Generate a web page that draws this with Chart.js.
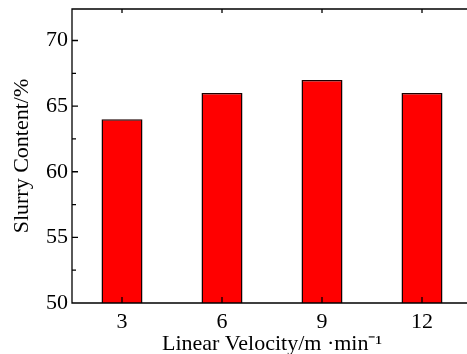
<!DOCTYPE html>
<html>
<head>
<meta charset="utf-8">
<script src="https://cdn.jsdelivr.net/npm/chart.js@4"></script>
<style>
  html, body { margin: 0; padding: 0; background: #fff; overflow: hidden; }
  #wrap { width: 467px; height: 354px; overflow: hidden; }
</style>
</head>
<body>
<div id="wrap"><canvas id="chart" width="480" height="354"></canvas></div>
<script>
    // data
    var velocities = ["3", "6", "9", "12"];
    var slurryContent = [64, 66, 67, 66];
    var yMajorTicks = [50, 55, 60, 65, 70];
    var yMinorTicks = [52.5, 57.5, 62.5, 67.5];

    var serif = "'Liberation Serif', 'Times New Roman', serif";

    // ticks pointing inward + frame, like the original figure
    // (the right side of the frame falls outside the cropped picture)
    var framePlugin = {
        id: "frame",
        afterDraw: function (chart) {
            var ctx = chart.ctx,
                area = chart.chartArea,
                x = chart.scales.x,
                y = chart.scales.y;
            ctx.save();
            ctx.strokeStyle = "#000";
            ctx.lineWidth = 1.3;
            ctx.beginPath();
            ctx.moveTo(area.right, area.top);
            ctx.lineTo(area.left, area.top);
            ctx.lineTo(area.left, area.bottom);
            ctx.lineTo(area.right, area.bottom);
            yMajorTicks.forEach(function (v) {
                var p = y.getPixelForValue(v);
                ctx.moveTo(area.left, p);
                ctx.lineTo(area.left + 6, p);
            });
            yMinorTicks.forEach(function (v) {
                var p = y.getPixelForValue(v);
                ctx.moveTo(area.left, p);
                ctx.lineTo(area.left + 4, p);
            });
            velocities.forEach(function (v, i) {
                var p = x.getPixelForValue(i);
                ctx.moveTo(p, area.bottom);
                ctx.lineTo(p, area.bottom - 6);
                ctx.moveTo(p, area.top);
                ctx.lineTo(p, area.top + 4);
            });
            ctx.stroke();
            ctx.restore();
        }
    };

    new Chart(document.getElementById("chart"), {
        type: "bar",
        data: {
            labels: velocities,
            datasets: [
                {
                    data: slurryContent,
                    backgroundColor: "#FF0000",
                    borderColor: "#1a0000",
                    borderWidth: 1.5,
                    borderSkipped: false,
                    categoryPercentage: 1,
                    barPercentage: 0.41
                }
            ]
        },
        options: {
            responsive: false,
            animation: false,
            layout: { padding: { top: 9, right: 8, left: 0, bottom: 0 } },
            plugins: {
                legend: { display: false },
                tooltip: { enabled: false }
            },
            scales: {
                x: {
                    grid: { display: false, drawTicks: false },
                    border: { display: false },
                    ticks: {
                        padding: 6,
                        color: "#000",
                        font: { family: serif, size: 22 }
                    },
                    title: {
                        display: true,
                        text: "Linear Velocity/m \u00B7min\u207B\u00B9",
                        color: "#000",
                        font: { family: serif, size: 22 },
                        padding: { top: 0, bottom: -3 }
                    },
                    afterFit: function (scale) {
                        scale.height = 51;
                        scale.paddingLeft = 0;
                        scale.paddingRight = 0;
                    }
                },
                y: {
                    min: 50,
                    max: 72.4,
                    afterBuildTicks: function (scale) {
                        scale.ticks = yMajorTicks.map(function (v) { return { value: v }; });
                    },
                    grid: { display: false, drawTicks: false },
                    border: { display: false },
                    ticks: {
                        padding: 4,
                        color: "#000",
                        font: { family: serif, size: 22 }
                    },
                    title: {
                        display: true,
                        text: "Slurry Content/%",
                        color: "#000",
                        font: { family: serif, size: 22 },
                        padding: { top: 9, bottom: 0 }
                    },
                    afterFit: function (scale) {
                        scale.width = 72;
                        scale.paddingTop = 0;
                        scale.paddingBottom = 0;
                    }
                }
            }
        },
        plugins: [framePlugin]
    });
</script>
</body>
</html>
